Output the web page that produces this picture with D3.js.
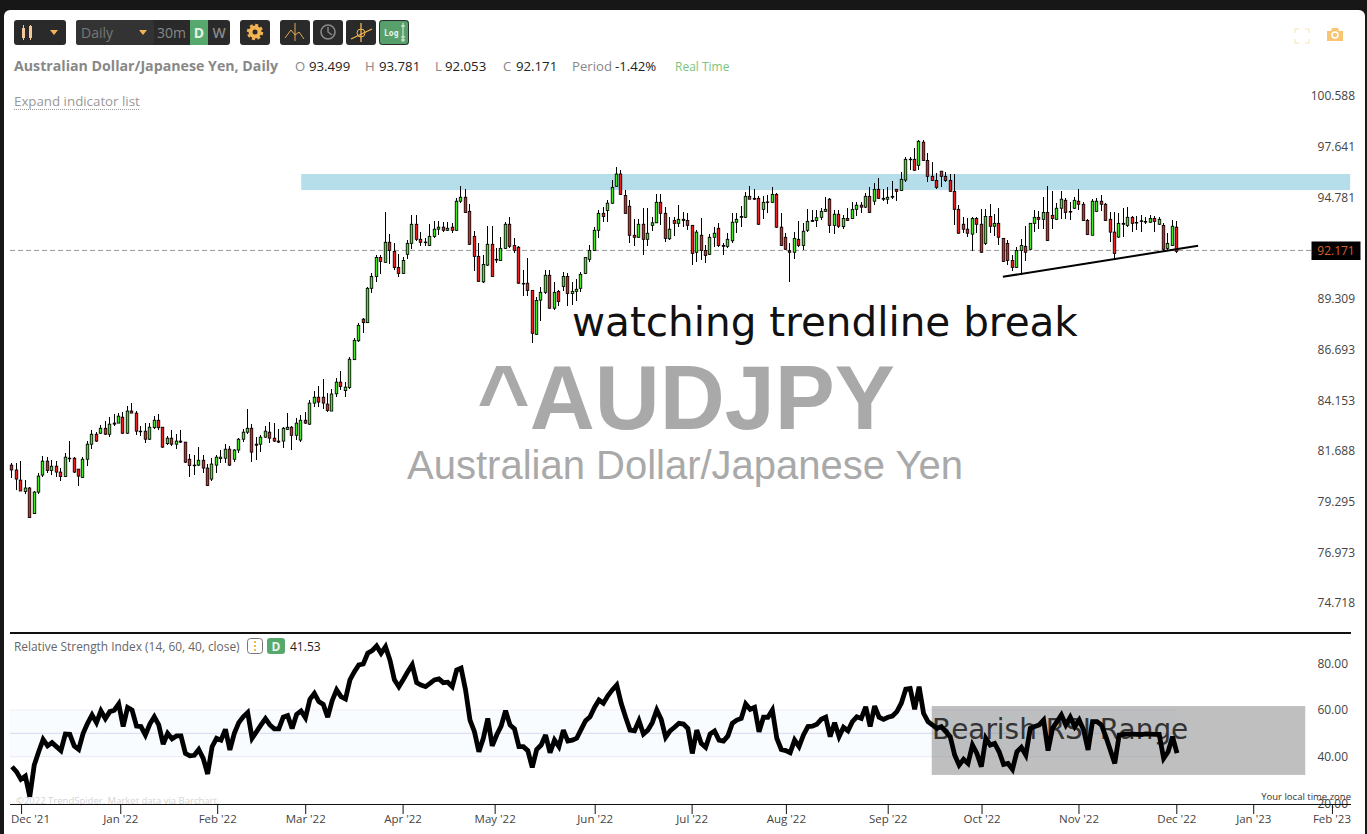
<!DOCTYPE html>
<html><head><meta charset="utf-8">
<script src="https://cdn.jsdelivr.net/npm/d3@7/dist/d3.min.js"></script>
<style>
html,body{margin:0;padding:0;background:#171717;overflow:hidden}
svg{display:block;font-family:"Open Sans",sans-serif}
</style></head><body>
<div id="chart"></div>
<script>
const opens=[81.01,80.78,80.30,79.77,79.93,78.74,79.74,80.54,81.20,80.76,
80.96,80.68,80.47,81.34,81.34,80.82,80.43,81.29,82.01,82.49,
82.54,82.78,82.49,83.03,83.03,83.32,82.54,83.62,83.52,82.64,
82.64,82.25,82.81,83.17,82.83,82.04,82.30,82.01,82.16,82.11,
81.29,81.01,81.01,81.24,80.87,80.35,81.01,81.32,81.34,81.77,
81.29,81.73,82.25,82.59,82.78,82.01,82.01,82.35,82.59,82.30,
82.16,82.16,82.73,82.83,82.44,82.21,83.17,82.98,84.01,84.30,
84.30,83.96,83.62,84.47,85.05,84.63,84.78,86.18,87.14,88.25,
88.07,89.86,90.49,91.50,91.24,92.32,91.83,90.97,90.65,91.67,
92.26,93.30,92.48,92.33,92.15,92.64,93.03,93.14,92.97,93.14,
92.97,94.57,94.79,94.01,92.64,91.56,90.20,91.09,92.21,91.40,
91.34,91.99,93.30,92.15,92.05,90.12,90.13,89.75,87.47,89.24,
89.65,90.55,88.82,89.70,89.96,90.49,89.59,89.70,89.86,90.65,
91.40,91.88,92.97,93.90,94.06,94.46,95.40,96.09,94.89,94.29,
92.70,92.59,93.30,92.48,93.24,93.38,94.51,93.90,92.51,93.51,
93.35,93.57,93.51,93.24,91.78,92.70,91.88,91.67,92.59,93.08,
92.15,92.10,92.40,93.41,93.68,93.68,94.84,94.73,94.73,94.12,
94.53,94.51,94.95,93.14,92.59,91.86,91.78,92.48,92.15,92.97,
93.51,93.51,93.68,94.01,94.68,93.24,93.85,93.17,93.62,93.62,
94.12,94.35,94.24,94.84,94.57,95.23,94.73,94.68,94.79,95.23,
95.17,95.75,96.93,96.92,96.58,97.90,96.86,95.96,95.73,96.25,
95.96,95.73,95.12,94.12,93.30,93.03,92.76,93.62,93.30,92.26,
93.73,93.19,93.35,92.53,92.26,91.34,90.97,91.88,92.10,91.94,
93.35,93.68,93.57,93.95,93.79,93.57,94.18,94.62,94.00,94.18,
94.57,94.40,93.51,92.70,94.01,94.57,94.40,93.57,92.87,92.60,
93.35,93.24,93.68,93.40,93.49,93.45,93.41,93.62,93.30,93.24,
91.99,92.15,93.14];
const closes=[80.78,80.35,79.79,79.93,78.56,79.74,80.49,81.20,80.76,80.96,
80.68,80.47,81.39,81.32,80.68,80.49,81.29,82.01,82.49,82.16,
82.78,82.49,82.98,82.98,83.37,82.54,83.62,83.52,82.64,82.62,
82.25,82.83,83.17,82.81,81.87,82.30,82.01,82.16,82.11,81.15,
80.99,80.99,81.24,80.87,80.05,81.06,81.39,81.39,81.77,81.01,
81.73,82.25,82.59,82.78,81.63,81.96,82.35,82.64,82.30,82.16,
82.11,82.78,82.83,82.44,83.03,83.17,83.03,84.01,84.30,84.06,
84.01,83.65,84.46,85.05,84.83,84.80,86.20,87.16,87.93,88.07,
89.86,90.49,91.50,91.29,92.32,91.88,90.97,90.65,91.34,92.26,
93.30,92.48,92.32,92.31,92.64,93.03,93.14,92.97,93.08,92.97,
94.57,94.79,93.95,92.21,91.56,90.23,91.13,92.21,90.49,91.36,
91.99,93.30,92.10,91.88,90.13,90.11,89.75,87.52,89.22,89.65,
90.55,88.82,89.65,89.17,90.49,89.59,89.70,89.81,90.60,91.50,
91.88,92.97,93.90,93.73,94.46,95.34,96.09,94.95,93.90,92.70,
92.59,93.30,92.48,92.81,93.38,94.51,93.90,92.53,93.03,93.35,
93.57,93.51,93.24,91.72,92.87,91.88,91.61,92.59,92.81,92.15,
92.10,92.48,93.41,93.57,93.73,94.84,94.68,94.68,93.30,94.51,
94.50,94.95,93.14,92.15,91.94,91.78,92.53,92.15,92.92,93.46,
93.46,93.66,94.01,94.12,93.24,93.85,93.19,93.62,93.51,94.12,
94.35,94.24,94.84,93.95,95.23,94.73,94.68,94.79,94.84,95.12,
95.79,96.92,96.91,96.30,97.95,96.86,95.96,95.73,95.34,95.96,
95.73,95.12,94.12,92.81,93.03,92.81,93.62,93.30,91.78,93.73,
93.19,93.35,92.59,91.29,91.34,90.97,91.88,92.15,91.78,93.35,
93.68,93.57,93.95,92.42,93.62,94.18,94.68,93.95,93.99,94.62,
94.40,93.51,92.74,94.57,94.57,94.40,93.51,92.87,91.72,93.35,
93.30,93.68,93.35,93.38,93.46,93.44,93.62,93.46,93.57,91.94,
92.26,93.19,91.83];
const highs=[81.10,81.10,81.21,80.32,80.00,79.79,80.63,81.45,81.39,81.26,
81.21,80.87,81.58,82.17,81.42,80.82,81.39,82.17,82.70,82.59,
82.94,83.13,83.32,83.48,83.52,83.58,83.87,84.02,83.62,82.91,
83.06,83.06,83.39,83.48,82.86,82.41,82.70,82.49,82.70,82.14,
81.53,81.50,81.88,81.50,81.07,81.34,81.50,81.74,82.01,81.93,
81.77,82.30,82.73,83.73,83.00,82.38,82.46,82.90,83.08,83.06,
82.73,82.83,83.53,82.90,83.27,83.42,83.57,84.17,84.61,84.86,
85.21,84.53,84.71,85.24,85.61,85.08,86.33,87.30,88.05,88.30,
89.91,90.65,91.63,91.63,93.95,92.76,92.26,91.67,91.54,92.44,
93.79,93.79,92.87,92.53,93.30,93.48,93.48,93.41,93.41,93.35,
94.73,95.42,95.25,94.42,92.94,92.26,91.63,93.19,93.19,91.99,
92.59,93.41,93.68,92.55,92.10,90.83,91.45,89.75,89.41,89.95,
90.83,90.83,90.21,89.77,90.71,90.65,90.20,90.34,90.74,91.50,
92.15,93.17,94.08,94.26,94.64,95.75,96.49,96.32,95.19,94.64,
93.59,93.59,94.18,94.18,93.70,94.95,94.95,94.25,93.70,93.70,
94.36,93.99,93.94,93.26,92.99,93.62,92.17,92.77,93.14,93.35,
92.26,92.83,93.90,93.90,94.30,95.09,95.39,95.23,94.84,94.88,
94.89,95.34,95.00,93.90,92.84,92.26,92.87,93.48,93.35,94.12,
94.08,94.08,94.18,94.83,94.75,94.08,94.08,93.81,94.18,94.55,
94.51,94.51,95.02,95.34,95.58,95.87,95.23,95.34,95.69,95.23,
96.19,97.04,97.04,97.55,98.03,98.03,97.26,96.77,96.13,96.25,
96.19,96.09,96.07,94.36,93.68,93.62,93.68,93.68,94.14,94.12,
94.40,93.85,94.18,92.53,92.44,91.63,92.05,92.48,93.22,93.35,
94.08,94.01,94.79,95.42,95.12,94.48,95.12,94.73,94.53,94.79,
95.23,94.51,93.59,94.68,94.73,94.90,94.46,93.95,93.95,93.92,
94.18,94.24,93.73,93.73,93.79,93.68,93.79,93.73,93.68,93.37,
92.81,93.53,93.48];
const lows=[80.38,79.85,79.77,79.66,78.52,78.71,79.63,80.43,80.63,80.56,
80.47,80.24,80.43,81.18,80.63,80.04,80.38,80.98,81.79,82.12,
82.51,82.46,82.38,82.91,83.02,82.52,82.52,83.50,82.43,82.41,
82.09,82.22,82.75,82.71,81.85,81.98,81.90,81.77,82.09,81.13,
80.47,80.56,80.98,80.66,80.04,80.24,80.66,81.13,81.13,80.98,
81.18,81.61,82.14,82.49,81.18,81.27,81.63,82.32,82.09,82.12,
82.09,81.85,82.70,81.75,82.19,82.12,82.98,82.94,83.84,83.84,
83.73,83.55,83.60,84.29,84.66,84.33,84.73,86.17,87.08,87.53,
88.04,89.63,90.21,90.62,91.21,91.13,90.83,90.47,90.62,91.41,
91.95,92.39,92.12,92.12,92.10,92.53,92.72,92.87,92.94,92.81,
92.94,94.46,93.93,92.19,90.79,90.21,90.14,91.04,90.47,91.22,
91.31,91.94,91.99,91.76,90.11,89.45,89.45,87.04,87.45,88.17,
89.55,88.78,88.71,88.95,89.70,88.95,89.00,89.17,89.65,90.63,
91.25,91.86,92.53,93.44,93.44,94.42,95.38,94.91,93.85,92.26,
92.12,92.57,91.63,92.12,92.94,93.37,93.26,92.33,92.44,92.66,
93.15,93.14,92.99,91.09,91.25,91.34,91.22,91.61,92.06,92.05,
91.65,91.99,92.26,92.83,93.17,93.66,94.67,94.66,93.28,93.60,
93.94,94.46,93.12,92.13,91.92,90.21,91.43,92.08,91.90,92.89,
93.44,93.17,93.53,93.99,92.81,92.77,93.08,93.03,93.49,93.60,
93.77,93.90,94.21,93.93,94.38,94.68,94.58,94.44,94.68,94.57,
95.15,95.65,96.32,96.28,96.32,96.81,95.65,95.71,95.23,95.36,
95.62,95.10,93.26,92.79,92.81,92.63,91.85,92.83,91.76,92.17,
92.83,92.66,92.17,91.27,91.09,90.79,90.95,90.56,91.32,91.92,
92.89,93.03,93.03,92.40,93.05,93.55,93.59,93.57,93.53,94.12,
94.08,93.49,92.69,92.69,93.97,94.01,93.49,92.35,91.36,92.53,
92.63,93.17,92.87,92.97,92.88,93.30,93.39,92.87,93.28,91.83,
91.90,92.12,91.76];
const rsi=[35.7,33.6,30.3,31.7,22.9,36.4,42.1,47.4,44.6,46,
44.3,42.6,49.7,49.6,44.6,43.1,50,54.3,57.9,54.6,
59.6,56.3,59.3,59.9,62.6,52.9,61.1,60,53.1,52.9,
49.3,54,57.1,53.6,45.4,50,47.7,48.9,48.9,41.4,
40.4,40.6,43.1,39.3,32.6,44.3,47.9,47.1,51.7,42.9,
50,54.6,57.1,58.9,47.9,50.7,53.6,56.3,53.6,51.9,
51.9,56.9,57.6,52.1,58.1,59.6,56.7,64.6,67.1,63.6,
62.4,56.9,64,68.6,65.7,64.7,72.9,76.4,79.3,79.7,
84.3,85.4,87.4,84.3,87.1,81.4,72.9,70,73.1,76.4,
79.4,71.7,70.7,70,71.4,72.9,73.3,71.7,71.9,70,
77.1,77.9,68.6,55.7,50.7,42.1,47.9,56.4,44.6,49.3,
53.1,59.7,53.6,51.9,44.3,44.3,42.6,35.4,43.1,45,
49.3,41.7,47.1,44.3,51.4,46.7,47.1,47.9,51.7,55.4,
57.1,61.1,64.3,62.9,66.1,68.6,70.7,62.9,56.9,51.4,
51.1,55.4,49.7,51.4,54.6,60,56,48.3,51.1,52.6,
54.3,54,52.1,41.4,51.4,45.7,44,49.7,51,47.1,
46.7,48.9,54.3,55.7,56.4,62.6,60.3,61.1,50.7,56.9,
56.9,60,47.9,43.1,42.6,41.7,47.1,44.3,49.3,52.9,
53.1,53.9,56,56.9,48.6,54.6,48.6,52.6,51.1,55,
57.1,56.4,61.4,52.9,61.7,56.9,56,56.9,57.4,59.3,
62.9,68.9,69.2,60.3,70,58.6,55,53.6,52.1,52.9,
50.7,48.6,40.7,36.4,38.9,37.1,45,41.4,35.7,47.9,
45,45.7,42.1,36.7,37.1,34.6,42.1,44,40.7,52.1,
52.9,53.6,55.7,42.6,52.1,55,57.9,53.6,56.9,52.9,
55.7,51.4,42.9,55,55,53.6,48.6,42.9,37.1,49.3,
49.6,49.8,49.7,49.6,49.5,49.8,49.7,49.6,49.6,39.3,
42.1,48.6,41.53];
const priceTicks=[100.588,97.641,94.781,89.309,86.693,84.153,81.688,79.295,76.973,74.718];
const rsiTicks=[80,60,40,20];
const monthPos=[2.2,24.5,46.3,66.1,88,108.7,131.2,153,174.2,197.1,218.2,240,262,279.3,297];
const monthLabels=["Dec '21","Jan '22","Feb '22","Mar '22","Apr '22","May '22","Jun '22","Jul '22","Aug '22","Sep '22","Oct '22","Nov '22","Dec '22","Jan '23","Feb '23"];
const resistanceBand={from:65.2,to:301.1,top:96.09,bottom:95.19};
const trendline=[[223,90.47],[266.9,92.13]];
const rsiBox={from:207,to:291,top:61.7,bottom:32.2};
const lastPriceLevel=91.88;

const W=1367,H=834;
const x=d3.scaleLinear().domain([0,262]).range([11.3,1176.3]);
const y=d3.scaleLog().domain([100.588,74.718]).range([96,603]);
const yR=d3.scaleLinear().domain([60,40]).range([710,756.7]);
const svg=d3.select("#chart").append("svg").attr("width",W).attr("height",H);
const dark="#171717";
svg.append("rect").attr("width",W).attr("height",H).attr("fill",dark);
svg.append("rect").attr("x",4).attr("y",10).attr("width",1361).attr("height",840).attr("rx",6).attr("fill","#fff");

/* toolbar */
const tb=svg.append("g");
const btn=(x0,w,fill="#2a2a2a")=>tb.append("rect").attr("x",x0).attr("y",20).attr("width",w).attr("height",25).attr("rx",3).attr("fill",fill);
const org="#f3b554";
const tri=(cx,cy)=>tb.append("path").attr("d",`M${cx-4},${cy-2}h8l-4,5z`).attr("fill",org);
btn(14,52);
tb.append("rect").attr("x",22).attr("y",28).attr("width",3).attr("height",10).attr("fill","#f5c79a");
tb.append("rect").attr("x",29).attr("y",26).attr("width",3).attr("height",12).attr("fill","#f5c79a");
tb.append("path").attr("d","M23.5,25v15M30.5,25v15").attr("stroke","#f5c79a");
tri(54,32);
btn(76,154);
tb.append("rect").attr("x",76).attr("y",20).attr("width",78).attr("height",25).attr("rx",3).attr("fill","#333");
tb.append("text").attr("x",81).attr("y",38).attr("font-size",14).attr("fill","#777").text("Daily");
tri(143,32);
tb.append("text").attr("x",157).attr("y",38).attr("font-size",14).attr("fill","#888").text("30m");
tb.append("rect").attr("x",190).attr("y",20).attr("width",18).attr("height",25).attr("fill","#57a86c");
tb.append("text").attr("x",199).attr("y",38).attr("text-anchor","middle").attr("font-size",14).attr("font-weight",700).attr("fill","#e6f2e6").text("D");
tb.append("text").attr("x",219).attr("y",38).attr("text-anchor","middle").attr("font-size",14).attr("font-weight",600).attr("fill","#888").text("W");
btn(240,30);
tb.append("circle").attr("cx",255).attr("cy",32).attr("r",4.5).attr("fill","none").attr("stroke",org).attr("stroke-width",4);
tb.append("circle").attr("cx",255).attr("cy",32).attr("r",7).attr("fill","none").attr("stroke",org).attr("stroke-width",2.4).attr("stroke-dasharray","3 2.5");
btn(280,30);
tb.append("path").attr("d","M285,38l6,-8l4,5l4,-3l5,7M295,23v18").attr("fill","none").attr("stroke","#e0a950").attr("stroke-width",1);
btn(313,30);
tb.append("circle").attr("cx",328).attr("cy",32).attr("r",7).attr("fill","none").attr("stroke","#8a8a8a").attr("stroke-width",1.6);
tb.append("path").attr("d","M328,27v5l4,3").attr("fill","none").attr("stroke","#8a8a8a").attr("stroke-width",1.4);
btn(346,30);
tb.append("path").attr("d","M351,39l21,-10M361,23v19").attr("fill","none").attr("stroke",org).attr("stroke-width",1.3);
tb.append("circle").attr("cx",361).attr("cy",33).attr("r",4).attr("fill","none").attr("stroke",org);
btn(379,30,"#57a06c");
tb.append("rect").attr("x",379.5).attr("y",20.5).attr("width",29).attr("height",24).attr("rx",3).attr("fill","none").attr("stroke","#2a2a2a");
tb.append("text").attr("x",384).attr("y",36).attr("font-family","DejaVu Sans Mono").attr("font-size",8).attr("font-weight",700).attr("fill","#e8f3e8").text("Log");
tb.append("path").attr("d","M403,23v19M401,26h4M401,37h4M401,40h4").attr("stroke","#e8f3e8").attr("fill","none");
/* top-right icons */
tb.append("path").attr("d","M1295,33v-4h4M1305,29h4v4M1309,39v4h-4M1299,43h-4v-4").attr("fill","none").attr("stroke","#fbe2b2").attr("stroke-width",1);
tb.append("path").attr("d","M1327,31h4l1,-3h6l1,3h4v10h-16z").attr("fill","#f8c672");
tb.append("circle").attr("cx",1335).attr("cy",35).attr("r",3).attr("fill","none").attr("stroke","#fff").attr("stroke-width",1.5);

/* header text */
const t=(g,xx,yy,s,fs,fill,extra={})=>{const e=g.append("text").attr("x",xx).attr("y",yy).attr("font-size",fs).attr("fill",fill).text(s);for(const k in extra)e.attr(k,extra[k]);return e;};
const hd=svg.append("g");
t(hd,14,71,"Australian Dollar/Japanese Yen, Daily",14.2,"#888",{"font-weight":700});
[[295,"O",309,"93.499"],[365,"H",379,"93.781"],[435,"L",445,"92.053"],[503,"C",516,"92.171"]].forEach(d=>{
 t(hd,d[0],71,d[1],13.2,"#888");t(hd,d[2],71,d[3],13.2,"#222");});
t(hd,572,71,"Period",13.2,"#888");t(hd,615,71,"-1.42%",13.2,"#222");
t(hd,675,71,"Real Time",12,"#7cc47c");
t(hd,14,106,"Expand indicator list",13.3,"#999");
hd.append("line").attr("x1",14).attr("x2",139).attr("y1",109.5).attr("y2",109.5).attr("stroke","#999").attr("stroke-dasharray","1 1");

/* price pane */
const pane=svg.append("g");
pane.append("rect").attr("x",x(resistanceBand.from)).attr("width",x(resistanceBand.to)-x(resistanceBand.from))
 .attr("y",y(resistanceBand.top)).attr("height",y(resistanceBand.bottom)-y(resistanceBand.top)).attr("fill","#b5deea");
t(pane,686,429,"^AUDJPY",90,"#a9a9a9",{"text-anchor":"middle","font-weight":700,"font-family":"Liberation Sans"});
t(pane,685,479,"Australian Dollar/Japanese Yen",40,"#a9a9a9",{"text-anchor":"middle","font-family":"Liberation Sans"});
t(pane,572,336,"watching trendline break",40.5,"#111",{"font-family":"DejaVu Sans"});
pane.append("line").attr("x1",10).attr("x2",1311).attr("y1",y(lastPriceLevel)).attr("y2",y(lastPriceLevel)).attr("stroke","#999").attr("stroke-dasharray","5 3");

const idx=d3.range(opens.length);
const cx=i=>Math.round(x(i))+0.5;
const candles=pane.append("g").selectAll("g").data(idx).join("g");
candles.append("line").attr("shape-rendering","crispEdges").attr("x1",cx).attr("x2",cx).attr("y1",i=>y(highs[i])).attr("y2",i=>y(lows[i])).attr("stroke","#000");
candles.append("rect").attr("x",i=>cx(i)-1.25).attr("width",2.5)
 .attr("y",i=>y(Math.max(opens[i],closes[i])))
 .attr("height",i=>Math.max(0.6,Math.abs(y(opens[i])-y(closes[i]))))
 .attr("fill",i=>closes[i]>=opens[i]?"#45e81e":"#e6201c").attr("stroke","#000").attr("stroke-width",0.85);
pane.append("line").attr("x1",x(trendline[0][0])).attr("y1",y(trendline[0][1])).attr("x2",x(trendline[1][0])).attr("y2",y(trendline[1][1])).attr("stroke","#000").attr("stroke-width",2);

const yAxis=d3.axisLeft(y).tickValues(priceTicks).tickSize(0).tickFormat(d3.format(".3f"));
const ya=svg.append("g").attr("transform","translate(1358,0)").call(yAxis);
ya.select(".domain").remove();
ya.selectAll("text").attr("font-size",12).attr("fill","#444").attr("font-family","Open Sans");
svg.append("rect").attr("x",1311.5).attr("y",241.5).attr("width",49).attr("height",18.5).attr("fill","#000");
t(svg,1336,255,"92.171",12,"#d9622b",{"text-anchor":"middle"});

/* RSI pane */
svg.append("line").attr("x1",10).attr("x2",1351).attr("y1",633).attr("y2",633).attr("stroke","#111").attr("stroke-width",2);
const rp=svg.append("g");
rp.append("rect").attr("x",10).attr("width",x(262)-10).attr("y",yR(60)).attr("height",yR(40)-yR(60)).attr("fill","#f8fcff");
[[60,"#eeeef8"],[50,"#dfdff3"],[40,"#eeeef8"]].forEach(d=>rp.append("line").attr("x1",10).attr("x2",x(262)).attr("y1",yR(d[0])).attr("y2",yR(d[0])).attr("stroke",d[1]).attr("stroke-width",1.2));
t(rp,14,651,"Relative Strength Index (14, 60, 40, close)",11.9,"#666");
rp.append("rect").attr("x",247.5).attr("y",638.5).attr("width",15).attr("height",15).attr("rx",3).attr("fill","#fff").attr("stroke","#777");
rp.append("path").attr("d","M255,641v10").attr("stroke",org).attr("stroke-width",2).attr("stroke-dasharray","2 2");
rp.append("rect").attr("x",267).attr("y",638).attr("width",18).attr("height",16).attr("rx",3).attr("fill","#57a86c");
t(rp,276,651,"D",12,"#eaf4ea",{"text-anchor":"middle","font-weight":700});
t(rp,290,651,"41.53",12,"#222");
t(rp,16,804,"©2022 TrendSpider. Market data via Barchart.",9.5,"#d4d4d4");

const line=d3.line().x((d,i)=>x(i)+0.7).y(d=>yR(d)).curve(d3.curveLinear);
rp.append("rect").attr("x",x(rsiBox.from)).attr("width",x(rsiBox.to)-x(rsiBox.from)).attr("y",yR(rsiBox.top)).attr("height",yR(rsiBox.bottom)-yR(rsiBox.top)).attr("fill","#808080").attr("fill-opacity",0.5);
t(rp,932,739,"Bearish RSI Range",27.9,"#333",{"font-family":"DejaVu Sans"});
rp.append("path").datum(rsi).attr("d",line).attr("fill","none").attr("stroke","#000").attr("stroke-width",4.8).attr("stroke-linejoin","miter").attr("stroke-miterlimit",3);

const ry=svg.append("g").attr("transform","translate(1351,0)").call(d3.axisLeft(yR).tickValues(rsiTicks).tickSize(0).tickFormat(d3.format(".2f")));
ry.select(".domain").remove();
ry.selectAll("text").attr("font-size",12).attr("fill","#444").attr("font-family","Open Sans");

/* time axis */
const xa=svg.append("g").attr("transform","translate(0,804)").call(d3.axisBottom(x).tickValues(monthPos).tickSize(10).tickPadding(4).tickFormat((d,i)=>monthLabels[i]));
xa.select(".domain").attr("d","M10,0.5H1351").attr("stroke","#111");
xa.selectAll("line").attr("stroke","#111");
xa.selectAll("text").attr("font-size",11.5).attr("fill","#444").attr("font-family","Open Sans").attr("dy",".45em");
xa.selectAll("text").filter((d,i)=>i===0).attr("text-anchor","start").attr("x",10.5-x(monthPos[0]));
xa.selectAll("text").filter((d,i)=>i===monthPos.length-1).attr("text-anchor","end").attr("x",1350.5-x(monthPos[14]));
t(svg,1351,800,"Your local time zone",9.5,"#333",{"text-anchor":"end"});
</script></body></html>
